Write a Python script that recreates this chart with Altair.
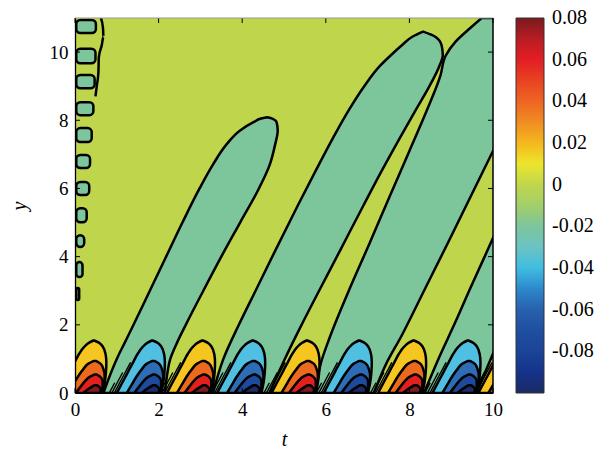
import altair as alt
import pandas as pd

# ---------------- data ----------------
t_ticks = [0, 2, 4, 6, 8, 10]
y_ticks = [0, 2, 4, 6, 8, 10]

# colour bar stops (value -> colour)
cb_values = [-0.10, -0.09, -0.08, -0.07, -0.06, -0.05, -0.045, -0.04, -0.03, -0.02,
             -0.01, 0.0, 0.005, 0.01, 0.02, 0.03, 0.04, 0.05, 0.06, 0.07, 0.0801]
cb_colors = ["#1c2a66", "#15338a", "#1b4497", "#1f4fa0", "#2861ad", "#2c88cc", "#2bb6ea",
             "#40bde0", "#6bc3c3", "#7cc59d", "#a2cf6a", "#c0d64c", "#d9df3c", "#ece62c",
             "#f4b81e", "#f08d22", "#ee6622", "#e94222", "#e31e24", "#b81d23", "#781a1e"]
cb_label_values = [-0.08, -0.06, -0.04, -0.02, 0, 0.02, 0.04, 0.06, 0.08]

# slanted negative "fingers" (rows of y with left / right t boundary)
fingerA_y  = [0, 0.5, 1.0, 1.5, 2.0, 3.0, 4.0, 5.0, 6.0, 6.7, 7.3, 7.7, 7.95, 8.05, 8.09]
fingerA_tl = [0.68, 0.83, 1.0, 1.2, 1.4, 1.79, 2.18, 2.57, 2.98, 3.3, 3.63, 3.95, 4.28, 4.45, 4.6]
fingerA_tr = [2.15, 2.2, 2.28, 2.45, 2.65, 3.07, 3.5, 3.95, 4.4, 4.66, 4.79, 4.85, 4.82, 4.72, 4.6]

fingerB_y  = [0, 1.0, 2.0, 3.0, 4.2, 5.5, 6.5, 7.5, 8.3, 9.0, 9.6, 9.9, 10.2, 10.45, 10.6]
fingerB_tl = [3.3, 3.55, 3.92, 4.32, 4.8, 5.33, 5.75, 6.18, 6.55, 6.92, 7.3, 7.55, 7.82, 8.07, 8.33]
fingerB_tr = [4.65, 5.02, 5.42, 5.84, 6.35, 6.9, 7.33, 7.78, 8.15, 8.48, 8.72, 8.8, 8.77, 8.62, 8.33]

fingerC_y  = [0, 0.87, 1.65, 3.0, 4.4, 5.8, 7.1, 8.3, 9.3, 9.9, 10.3, 10.7, 11.0]
fingerC_tl = [5.75, 5.88, 6.1, 6.55, 7.05, 7.54, 8.0, 8.42, 8.74, 8.87, 9.1, 9.45, 9.73]
fingerC_tr = [7.15, 7.45, 7.8, 8.35, 8.92, 9.48, 10.0, 10.48, 10.88, 11.1, 11.3, 11.45, 11.6]

fingerD_y  = [0, 1.15, 2.0, 3.0, 4.0, 4.6, 5.5]
fingerD_tl = [8.35, 8.75, 9.07, 9.43, 9.8, 10.02, 10.38]
fingerD_tr = [9.6, 10.0, 10.3, 10.7, 11.1, 11.35, 11.7]

# small islands along the t = 0 edge
island_bottom = [10.56, 9.67, 8.94, 8.15, 7.36, 6.60, 5.81, 5.01, 4.28, 3.40, 2.73]
island_top    = [10.94, 10.10, 9.33, 8.53, 7.77, 6.98, 6.19, 5.42, 4.63, 3.84, 3.08]
island_right  = [0.50, 0.49, 0.47, 0.44, 0.40, 0.36, 0.34, 0.28, 0.22, 0.18, 0.10]

# wiggly contour near the top-left
wiggle_t = [0.62, 0.67, 0.68, 0.64, 0.57, 0.56, 0.52, 0.49]
wiggle_y = [11.0, 10.7, 10.45, 10.2, 9.85, 9.4, 9.0, 8.7]

# lobes at the wall: crest positions
pos_lobe_t = [0.40, 3.0, 5.5, 8.05, 10.45]
neg_lobe_t = [1.8, 4.2, 6.75, 9.35]

# lobe outline per contour level, relative to the crest position
lv1_y  = [0, 0.3, 0.6, 0.9, 1.15, 1.35, 1.48, 1.54]
lv1_tl = [-0.8, -0.67, -0.54, -0.41, -0.3, -0.18, -0.06, 0.04]
lv1_tr = [0.26, 0.31, 0.34, 0.35, 0.33, 0.27, 0.17, 0.06]
lv2_y  = [0, 0.25, 0.5, 0.7, 0.86, 0.94]
lv2_tl = [-0.56, -0.44, -0.32, -0.2, -0.08, 0.05]
lv2_tr = [0.24, 0.29, 0.31, 0.28, 0.21, 0.1]
lv3_y  = [0, 0.18, 0.35, 0.48, 0.54]
lv3_tl = [-0.38, -0.27, -0.16, -0.04, 0.06]
lv3_tr = [0.22, 0.26, 0.26, 0.2, 0.12]
lv4_y  = [0, 0.1, 0.18, 0.23]
lv4_tl = [-0.2, -0.1, 0.0, 0.07]
lv4_tr = [0.2, 0.22, 0.18, 0.12]

# thin intermediate contours hugging each lobe's left flank
hair_shift  = [0.06, 0.12, 0.18]      # t offset to the left of the outer flank
hair_height = [1.0, 0.75, 0.5]        # how high each thin contour runs

pos_colors = ["#f6c620", "#ec6a1e", "#e2201e", "#7d1b1f"]
neg_colors = ["#50c0e2", "#2d6db5", "#1d4a9c", "#1d2b69"]
BG = "#bed54c"
FINGER = "#7dc59b"
SERIF = "Liberation Serif"

W, H = 418, 375

# ---------------- tables ----------------
def finger_df():
    rows = []
    for name, ys_, tl, tr in [("A", fingerA_y, fingerA_tl, fingerA_tr),
                              ("B", fingerB_y, fingerB_tl, fingerB_tr),
                              ("C", fingerC_y, fingerC_tl, fingerC_tr),
                              ("D", fingerD_y, fingerD_tl, fingerD_tr)]:
        for y, a, b in zip(ys_, tl, tr):
            rows.append({"id": name, "y": y, "tl": a, "tr": b})
    return pd.DataFrame(rows)


def lobe_df(centers, ys_, tl, tr, prefix):
    rows = []
    for i, c in enumerate(centers):
        for y, a, b in zip(ys_, tl, tr):
            rows.append({"id": f"{prefix}{i}", "y": y, "tl": c + a, "tr": c + b})
    return pd.DataFrame(rows)


def hair_df():
    rows = []
    for i, c in enumerate(pos_lobe_t + neg_lobe_t):
        for j, (d, hh) in enumerate(zip(hair_shift, hair_height)):
            for y, a in zip(lv1_y, lv1_tl):
                if y <= hh + 1e-9:
                    rows.append({"id": f"h{i}_{j}", "k": j, "y": y, "t": c + a - d})
    return pd.DataFrame(rows)


xs = alt.Scale(domain=[0, 10], nice=False, zero=False)
yscale = alt.Scale(domain=[0, 11], nice=False, zero=False)

x_axis = alt.Axis(values=t_ticks, title="t", format="d", labelFont=SERIF, labelFontSize=19,
                  labelColor="black", ticks=False, domainColor="black", domainWidth=1,
                  labelPadding=7, titleFont=SERIF, titleFontStyle="italic",
                  titleFontWeight="normal", titleFontSize=20, titleColor="black",
                  titlePadding=10, grid=False, zindex=1, labelFlush=False)
y_axis = alt.Axis(values=y_ticks, title="y", format="d", labelFont=SERIF, labelFontSize=19,
                  labelColor="black", ticks=False, domainColor="black", domainWidth=1.3,
                  labelPadding=7, titleFont=SERIF, titleFontStyle="italic",
                  titleFontWeight="normal", titleFontSize=20, titleColor="black",
                  titlePadding=20, grid=False, zindex=1, labelFlush=False)

LW = 2.5


def X(field):
    return alt.X(field, scale=xs, axis=x_axis)


def Y(field):
    return alt.Y(field, scale=yscale, axis=y_axis)


def area_layer(df, fill):
    return alt.Chart(df).mark_area(
        orient="horizontal", fill=fill, opacity=1, stroke="black", strokeWidth=LW,
        strokeJoin="round", clip=True, interpolate="monotone"
    ).encode(y=Y("y:Q"), x=X("tl:Q"), x2="tr:Q", detail="id:N")


layers = [area_layer(finger_df(), FINGER)]

isl = pd.DataFrame({"y0": island_bottom, "y1": island_top, "x1": island_right})
isl["x0"] = 0.03
layers.append(alt.Chart(isl).mark_rect(fill=FINGER, stroke="black", strokeWidth=LW,
                                       cornerRadius=4, clip=True).encode(
    x=X("x0:Q"), x2="x1:Q", y=Y("y0:Q"), y2="y1:Q"))

wig = pd.DataFrame({"t": wiggle_t, "y": wiggle_y, "o": list(range(len(wiggle_t)))})
layers.append(alt.Chart(wig).mark_line(color="black", strokeWidth=LW, clip=True,
                                       interpolate="monotone").encode(
    x=X("t:Q"), y=Y("y:Q"), order="o:Q"))

hair = hair_df()
for j in range(len(hair_shift)):
    layers.append(alt.Chart(hair[hair["k"] == j]).mark_line(
        color="black", strokeWidth=1.4, clip=True, interpolate="monotone").encode(
        x=X("t:Q"), y=Y("y:Q"), detail="id:N", order="y:Q"))

levels = [(lv1_y, lv1_tl, lv1_tr), (lv2_y, lv2_tl, lv2_tr),
          (lv3_y, lv3_tl, lv3_tr), (lv4_y, lv4_tl, lv4_tr)]
for k, (ly, ltl, ltr) in enumerate(levels):
    layers.append(area_layer(lobe_df(pos_lobe_t, ly, ltl, ltr, f"p{k}"), pos_colors[k]))
    layers.append(area_layer(lobe_df(neg_lobe_t, ly, ltl, ltr, f"n{k}"), neg_colors[k]))

# inward tick marks on all four sides
tx = pd.DataFrame({"v": t_ticks})
ty = pd.DataFrame({"v": y_ticks})
layers.append(alt.Chart(tx).mark_rule(color="black", strokeWidth=1).encode(
    x=X("v:Q"), y=alt.value(H), y2=alt.value(H - 5)))
layers.append(alt.Chart(tx).mark_rule(color="black", strokeWidth=1).encode(
    x=X("v:Q"), y=alt.value(0), y2=alt.value(5)))
layers.append(alt.Chart(ty).mark_rule(color="black", strokeWidth=1).encode(
    y=Y("v:Q"), x=alt.value(0), x2=alt.value(5)))
layers.append(alt.Chart(ty).mark_rule(color="black", strokeWidth=1).encode(
    y=Y("v:Q"), x=alt.value(W - 5), x2=alt.value(W)))

frame = pd.DataFrame({"a": [0]})
layers.append(alt.Chart(frame).mark_rule(color="#9a9a9a", strokeWidth=1.2).encode(
    x=alt.value(0), x2=alt.value(W), y=alt.value(0)))
layers.append(alt.Chart(frame).mark_rule(color="black", strokeWidth=1.5).encode(
    x=alt.value(W), y=alt.value(0), y2=alt.value(H)))

cb = pd.DataFrame({"v": cb_values})
layers.append(alt.Chart(cb).mark_point(opacity=0, size=0).encode(
    x=alt.value(0), y=alt.value(0),
    color=alt.Color("v:Q", scale=alt.Scale(domain=cb_values, range=cb_colors, interpolate="rgb"),
                    legend=alt.Legend(
                        title=None, orient="right", offset=23, padding=0,
                        gradientLength=H, gradientThickness=28,
                        gradientStrokeColor="#333333", gradientStrokeWidth=1,
                        values=cb_label_values, labelOverlap=False,
                        labelFont=SERIF, labelFontSize=20, labelColor="black",
                        labelOffset=8,
                        labelExpr="replace(format(datum.value, '~g'), '\u2212', '-')",
                        direction="vertical"))))

chart = alt.layer(*layers).properties(
    width=W, height=H,
    autosize=alt.AutoSizeParams(type="none"),
    padding={"left": 75, "top": 18, "right": 107, "bottom": 58},
    background="white",
).configure_view(stroke=None, fill=BG)

chart.save("out.html", embed_options={"renderer": "svg", "actions": False})
